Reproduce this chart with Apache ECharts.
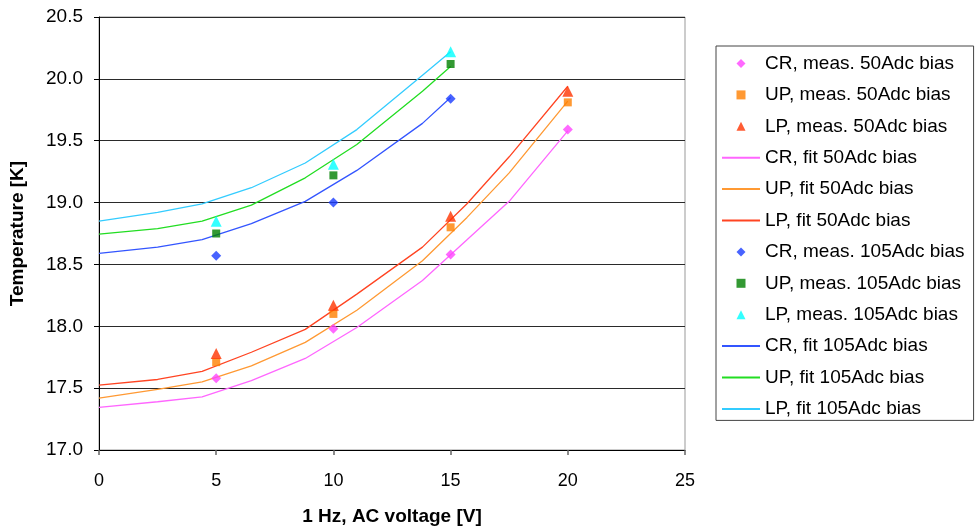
<!DOCTYPE html>
<html>
<head>
<meta charset="utf-8">
<script src="https://cdn.jsdelivr.net/npm/echarts@6/dist/echarts.min.js"></script>
<style>
html,body{margin:0;padding:0;background:#fff;}
#chart{width:980px;height:527px;}
</style>
</head>
<body>
<div id="chart"></div>
<script>
// Measured points
const xMeas50 = [5, 10, 15, 20];
const crMeas50 = [17.58, 17.98, 18.58, 19.59];
const upMeas50 = [17.71, 18.10, 18.80, 19.81];
const lpMeas50 = [17.78, 18.17, 18.89, 19.90];
const xMeas105 = [5, 10, 15];
const crMeas105 = [18.57, 19.00, 19.84];
const upMeas105 = [18.75, 19.22, 20.12];
const lpMeas105 = [18.85, 19.31, 20.22];
// Fit curves
const xFit50 = [0, 2.5, 4.4, 6.5, 8.8, 11, 13.8, 15.7, 17.5, 20];
const crFit50 = [17.345, 17.39, 17.43, 17.56, 17.74, 17.99, 18.37, 18.70, 19.01, 19.58];
const upFit50 = [17.42, 17.49, 17.55, 17.68, 17.87, 18.13, 18.53, 18.88, 19.24, 19.82];
const lpFit50 = [17.525, 17.57, 17.635, 17.79, 17.975, 18.26, 18.64, 18.99, 19.37, 19.94];
const xFit105 = [0, 2.5, 4.4, 6.5, 8.8, 11, 13.8, 15];
const crFit105 = [18.59, 18.64, 18.70, 18.83, 19.01, 19.26, 19.64, 19.85];
const upFit105 = [18.745, 18.79, 18.85, 18.98, 19.20, 19.47, 19.90, 20.10];
const lpFit105 = [18.85, 18.92, 18.99, 19.12, 19.32, 19.59, 20.03, 20.22];
// Axis ticks
const xTicks = [0, 5, 10, 15, 20, 25];
const yTicks = [17.0, 17.5, 18.0, 18.5, 19.0, 19.5, 20.0, 20.5];

const names = [
  'CR, meas. 50Adc bias', 'UP, meas. 50Adc bias', 'LP, meas. 50Adc bias',
  'CR, fit 50Adc bias', 'UP, fit 50Adc bias', 'LP, fit 50Adc bias',
  'CR, meas. 105Adc bias', 'UP, meas. 105Adc bias', 'LP, meas. 105Adc bias',
  'CR, fit 105Adc bias', 'UP, fit 105Adc bias', 'LP, fit 105Adc bias'
];

const ICON_DIAMOND = 'path://M5 0L10 5L5 10L0 5Z';
const ICON_RECT = 'path://M0 0H10V10H0Z';
const ICON_TRI = 'path://M5 0L10 10H0Z';

function pairs(xs, ys) { return xs.map((x, i) => [x, ys[i]]); }

function scatter(name, xs, ys, symbol, size, color) {
  return {
    name: name, type: 'scatter', data: pairs(xs, ys),
    symbol: symbol, symbolSize: size,
    itemStyle: { color: color }, z: 3
  };
}
function fit(name, xs, ys, color) {
  return {
    name: name, type: 'line', data: pairs(xs, ys),
    symbol: 'none', showSymbol: false,
    lineStyle: { color: color, width: 1.3 }, itemStyle: { color: color }, z: 2
  };
}

const series = [
  scatter(names[0], xMeas50, crMeas50, 'diamond', 10, '#FF44FF'),
  scatter(names[1], xMeas50, upMeas50, 'rect', 8, '#FF7F00'),
  scatter(names[2], xMeas50, lpMeas50, 'triangle', 11, '#FF3300'),
  fit(names[3], xFit50, crFit50, '#FF66FF'),
  fit(names[4], xFit50, upFit50, '#FF9933'),
  fit(names[5], xFit50, lpFit50, '#FF4422'),
  scatter(names[6], xMeas105, crMeas105, 'diamond', 10, '#1A3CFF'),
  scatter(names[7], xMeas105, upMeas105, 'rect', 8, '#008000'),
  scatter(names[8], xMeas105, lpMeas105, 'triangle', 11, '#00FFFF'),
  fit(names[9], xFit105, crFit105, '#3355FF'),
  fit(names[10], xFit105, upFit105, '#22DD22'),
  fit(names[11], xFit105, lpFit105, '#33CCFF')
];

const legendIcons = [ICON_DIAMOND, ICON_RECT, ICON_TRI, null, null, null,
                     ICON_DIAMOND, ICON_RECT, ICON_TRI, null, null, null];
const legendData = names.map((n, i) => legendIcons[i]
  ? { name: n, icon: legendIcons[i] }
  : { name: n, itemStyle: { opacity: 0 } });

const chart = echarts.init(document.getElementById('chart'), null, { renderer: 'canvas' });
const font = '"Liberation Sans", Arial, sans-serif';
chart.setOption({
  animation: false,
  backgroundColor: '#ffffff',
  textStyle: { fontFamily: font },
  grid: { left: 99, right: 295, top: 17, bottom: 77, show: true, borderColor: '#999', borderWidth: 1,
          containLabel: false, outerBoundsMode: 'none' },
  xAxis: {
    type: 'value', min: xTicks[0], max: xTicks[xTicks.length - 1], interval: 5,
    name: '1 Hz, AC voltage [V]', nameLocation: 'middle', nameGap: 57,
    nameTextStyle: { fontFamily: font, fontWeight: 'bold', fontSize: 19, color: '#000' },
    axisLine: { show: true, lineStyle: { color: '#000', width: 1 } },
    axisTick: { show: true, length: 5, lineStyle: { color: '#666', width: 1.5 } },
    axisLabel: { color: '#000', fontSize: 18, margin: 22, fontFamily: font },
    splitLine: { show: false }
  },
  yAxis: {
    type: 'value', min: yTicks[0], max: yTicks[yTicks.length - 1], interval: 0.5,
    name: 'Temperature [K]', nameLocation: 'middle', nameGap: 72,
    nameTextStyle: { fontFamily: font, fontWeight: 'bold', fontSize: 19, color: '#000' },
    axisLine: { show: true, lineStyle: { color: '#000', width: 1 } },
    axisTick: { show: true, length: 5, lineStyle: { color: '#000', width: 1 } },
    axisLabel: { color: '#000', fontSize: 19, margin: 16, fontFamily: font,
      formatter: v => v.toFixed(1) },
    splitLine: { show: true, lineStyle: { color: '#2a2a2a', width: 1.2 } }
  },
  legend: {
    orient: 'vertical', left: 716, top: 46,
    data: legendData,
    itemWidth: 38, itemHeight: 9, itemGap: 12.4,
    symbolKeepAspect: true,
    padding: [8, 9, 2, 5],
    borderColor: '#444', borderWidth: 1, backgroundColor: '#fff',
    textStyle: { fontFamily: font, fontSize: 19, color: '#000' }
  },
  series: series
});
</script>
</body>
</html>
